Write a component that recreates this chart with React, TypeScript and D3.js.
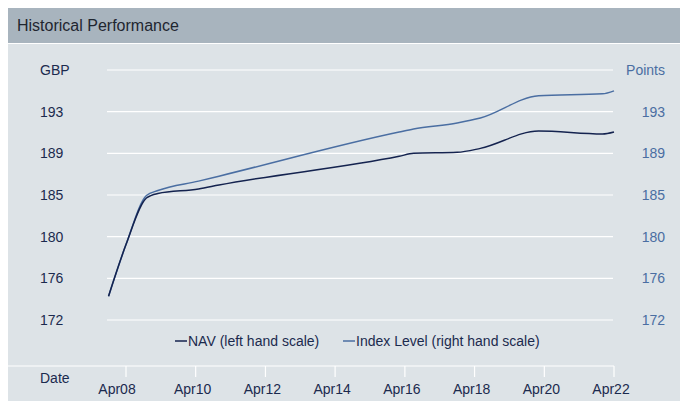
import React from "react";
import * as d3 from "d3";

// values
const dates = ["2007-10", "2008-04", "2008-11", "2009-03", "2010-05", "2010-12", "2016-02", "2016-07", "2017-10", "2018-06", "2020-02", "2021-12", "2022-04"];
const navValues = [174.4, 179.6, 184.3, 184.75, 185.2, 185.6, 188.5, 188.8, 188.9, 189.3, 191.05, 190.75, 190.95];
const indexValues = [174.4, 179.6, 184.55, 185.05, 186.0, 186.5, 190.95, 191.25, 191.86, 192.36, 194.6, 194.8, 195.1];
const tickDates = ["2008-04", "2010-04", "2012-04", "2014-04", "2016-04", "2018-04", "2020-04", "2022-04"];
const yTicks = [172, 176.2, 180.4, 184.6, 188.8, 193, 197.2];
const legendLabels = ["NAV (left hand scale)", "Index Level (right hand scale)"];

const W = 680;
const H = 393;
const FONT = "Arial, 'Liberation Sans', sans-serif";
const NAV_COLOR = "#14234f";
const INDEX_COLOR = "#4a6ea2";

export default function App() {
  const parse = d3.timeParse("%Y-%m");
  const fmt = d3.timeFormat("Apr%y");

  const x = d3.scaleTime()
    .domain([parse("2008-04")!, parse("2022-04")!])
    .range([118, 606]);
  const y = d3.scaleLinear().domain([172, 197.2]).range([312, 62]);

  const navData = dates.map((d, i) => ({ date: parse(d)!, v: navValues[i] }));
  const indexData = dates.map((d, i) => ({ date: parse(d)!, v: indexValues[i] }));

  const line = d3.line<{ date: Date; v: number }>()
    .x(d => x(d.date))
    .y(d => y(d.v))
    .curve(d3.curveMonotoneX);

  const gridX0 = 99;
  const gridX1 = 605;
  const axisY = 358;

  return (
    <svg width={W} height={H} style={{ display: "block" }} fontFamily={FONT}>
      <rect x={0} y={0} width={W} height={H} fill="#dde3e7" />
      <rect x={0} y={0} width={W} height={35} fill="#a8b4be" />
      <rect x={0} y={35} width={W} height={1} fill="#ffffff" />
      <text x={9} y={23} fontSize={16} fill="#1f2630">Historical Performance</text>

      {yTicks.map((t, i) => (
        <g key={i}>
          <line x1={gridX0} x2={gridX1} y1={y(t)} y2={y(t)} stroke="#ffffff" strokeWidth={1.2} />
          <text x={32} y={y(t)} dy="0.35em" fontSize={14} fill="#1b2a4e">
            {i === yTicks.length - 1 ? "GBP" : Math.round(t)}
          </text>
          <text x={657} y={y(t)} dy="0.35em" fontSize={14} fill={INDEX_COLOR} textAnchor="end">
            {i === yTicks.length - 1 ? "Points" : Math.round(t)}
          </text>
        </g>
      ))}

      <path d={line(indexData)!} fill="none" stroke={INDEX_COLOR} strokeWidth={1.5} />
      <path d={line(navData)!} fill="none" stroke={NAV_COLOR} strokeWidth={1.5} />

      {/* legend */}
      <g fontSize={14} fill="#1b2a4e">
        <line x1={167} x2={179} y1={333} y2={333} stroke={NAV_COLOR} strokeWidth={1.5} />
        <text x={180} y={333} dy="0.35em">{legendLabels[0]}</text>
        <line x1={335} x2={347} y1={333} y2={333} stroke={INDEX_COLOR} strokeWidth={1.5} />
        <text x={348} y={333} dy="0.35em">{legendLabels[1]}</text>
      </g>

      {/* x axis */}
      <line x1={0} x2={x(parse("2022-04")!)} y1={axisY} y2={axisY} stroke="#ffffff" strokeWidth={1.2} />
      <text x={32} y={370} dy="0.35em" fontSize={14} fill="#1b2a4e">Date</text>
      {tickDates.map((d, i) => {
        const dt = parse(d)!;
        return (
          <g key={d}>
            <line x1={x(dt)} x2={x(dt)} y1={axisY} y2={axisY + 11} stroke="#ffffff" strokeWidth={1.2} />
            <text x={x(dt) - (i === 0 ? 9 : 3)} y={381} dy="0.35em" fontSize={14} fill="#1b2a4e" textAnchor="middle">
              {fmt(dt)}
            </text>
          </g>
        );
      })}
    </svg>
  );
}
